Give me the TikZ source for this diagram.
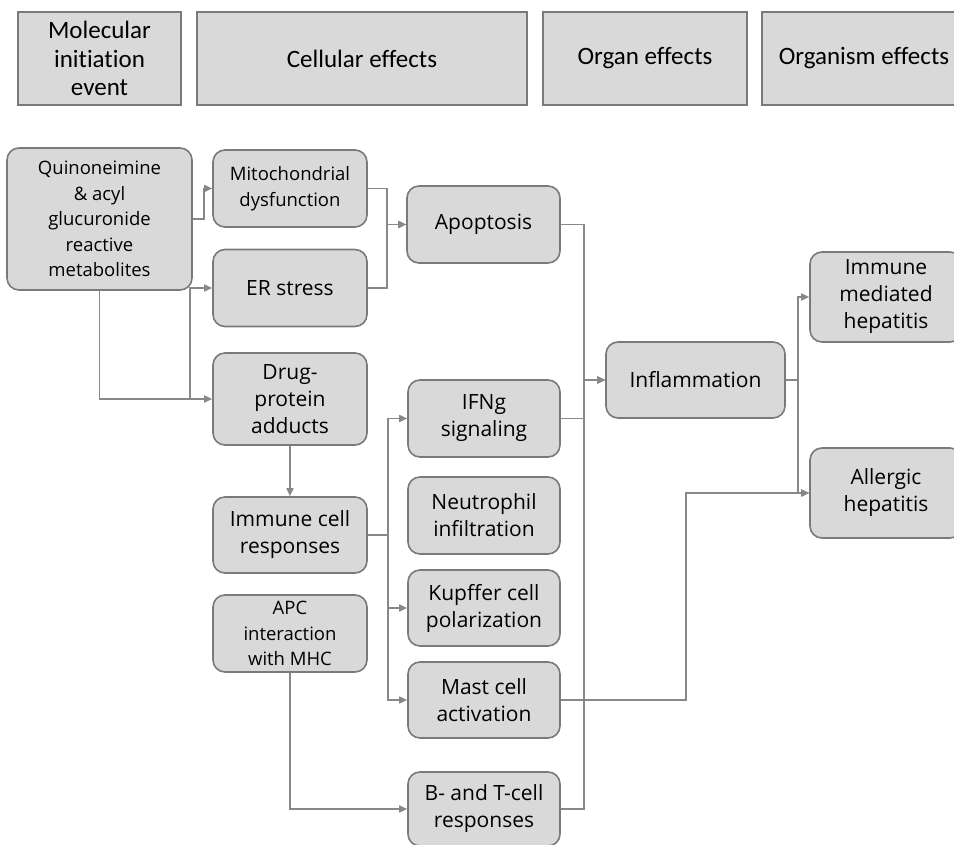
\documentclass[tikz,border=0pt]{standalone}
\usepackage{fontspec}
\setmainfont{Open Sans}
\newfontfamily\headfont[Ligatures={NoCommon}]{Carlito}
\usepackage{tikz}
\usetikzlibrary{positioning, arrows.meta, calc}

\definecolor{boxgray}{HTML}{D9D9D9}
\definecolor{edgegray}{HTML}{7A7A7A}
\definecolor{wiregray}{HTML}{888888}

\tikzset{
  level/.style={draw=edgegray, fill=boxgray, line width=2.4pt, minimum height=93pt,
                align=center, inner sep=0pt, font=\headfont\fontsize{25}{28.5}\selectfont},
  cell/.style={draw=edgegray, fill=boxgray, line width=1.6pt, rounded corners=12pt,
               minimum width=154pt, minimum height=77pt, align=center, inner sep=0pt,
               font=\fontsize{21}{27}\selectfont},
  smallcell/.style={cell, font=\fontsize{18.5}{25.5}\selectfont},
  flow/.style={draw=wiregray, line width=1.6pt, -{Triangle[length=8pt,width=7pt]}}
}

\begin{document}
\begin{tikzpicture}[x=1pt, y=-1pt]
  \clip (0,0) rectangle (954,845);
  \fill[white] (0,0) rectangle (954,845);

  % 1. Level headers
  \node[level, minimum width=163pt] (lvmol) at (99.5,58.5) {Molecular\\initiation\\event};
  \node[level, minimum width=330pt] (lvcell) at (362,58.5) {Cellular effects};
  \node[level, minimum width=204pt] (lvorgan) at (645,58.5) {Organ effects};
  \node[level, minimum width=204pt] (lvorganism) at (864,58.5) {Organism effects};

  % 2. Molecular and cellular nodes
  \node[smallcell, minimum width=185pt, minimum height=142pt] (quin) at (99.5,219)
    {Quinoneimine\\\& acyl\\glucuronide\\reactive\\metabolites};
  \node[smallcell] (mito) at (290,188.5) {Mitochondrial\\dysfunction};
  \node[cell] (ers) at (290,288) {ER stress};
  \node[cell, minimum height=92pt] (drug) at (290,399) {Drug-\\protein\\adducts};
  \node[cell, minimum height=76pt] (immune) at (290,535) {Immune cell\\responses};
  \node[smallcell] (apc) at (290,633.5) {APC\\interaction\\with MHC};

  \node[cell, minimum width=153pt] (apop) at (483.5,224.5) {Apoptosis};
  \node[cell, minimum width=152pt] (ifng) at (484,418.5) {IFNg\\signaling};
  \node[cell, minimum width=152pt] (neut) at (484,515.5) {Neutrophil\\infiltration};
  \node[cell, minimum width=152pt, minimum height=76pt] (kupf) at (484,608) {Kupffer cell\\polarization};
  \node[cell, minimum width=152pt, minimum height=76pt] (mast) at (484,700) {Mast cell\\activation};
  \node[cell, minimum width=152pt, minimum height=74pt] (btcell) at (484,809) {B- and T-cell\\responses};

  % 3. Organ and organism nodes
  \node[cell, minimum width=179pt, minimum height=76pt] (infl) at (695.5,380) {Inflammation};
  \node[cell, minimum width=152pt, minimum height=90pt] (imhep) at (886,297) {Immune\\mediated\\hepatitis};
  \node[cell, minimum width=152pt, minimum height=90pt] (alhep) at (886,493) {Allergic\\hepatitis};

  % 4. Connectors
  \coordinate (qsplit) at (190,399);
  \draw[flow] (quin.east) -- ++(11,0) |- (mito.west);
  \draw[flow] (quin.south) |- (drug.west);
  \draw[flow] (qsplit) |- (ers.west);

  \draw[flow] (mito.east) -- ++(19,0) |- (apop.west);
  \draw[flow] (ers.east) -- ++(19,0) |- (apop.west);

  \draw[flow] (drug.south) -- (immune.north);
  \foreach \t in {ifng,kupf,mast}
    \draw[flow] (immune.east) -- ++(20,0) |- (\t.west);
  \draw[flow] (apc.south) |- (btcell.west);

  \foreach \s in {apop,ifng,btcell}
    \draw[flow] (\s.east) -- ++(23,0) |- (infl.west);

  \draw[flow] (mast.east) -- ++(125,0) |- (alhep.west);
  \draw[flow] (infl.east) -- ++(12,0) |- (imhep.west);
  \draw[flow] (infl.east) -- ++(12,0) |- (alhep.west);
\end{tikzpicture}
\end{document}
